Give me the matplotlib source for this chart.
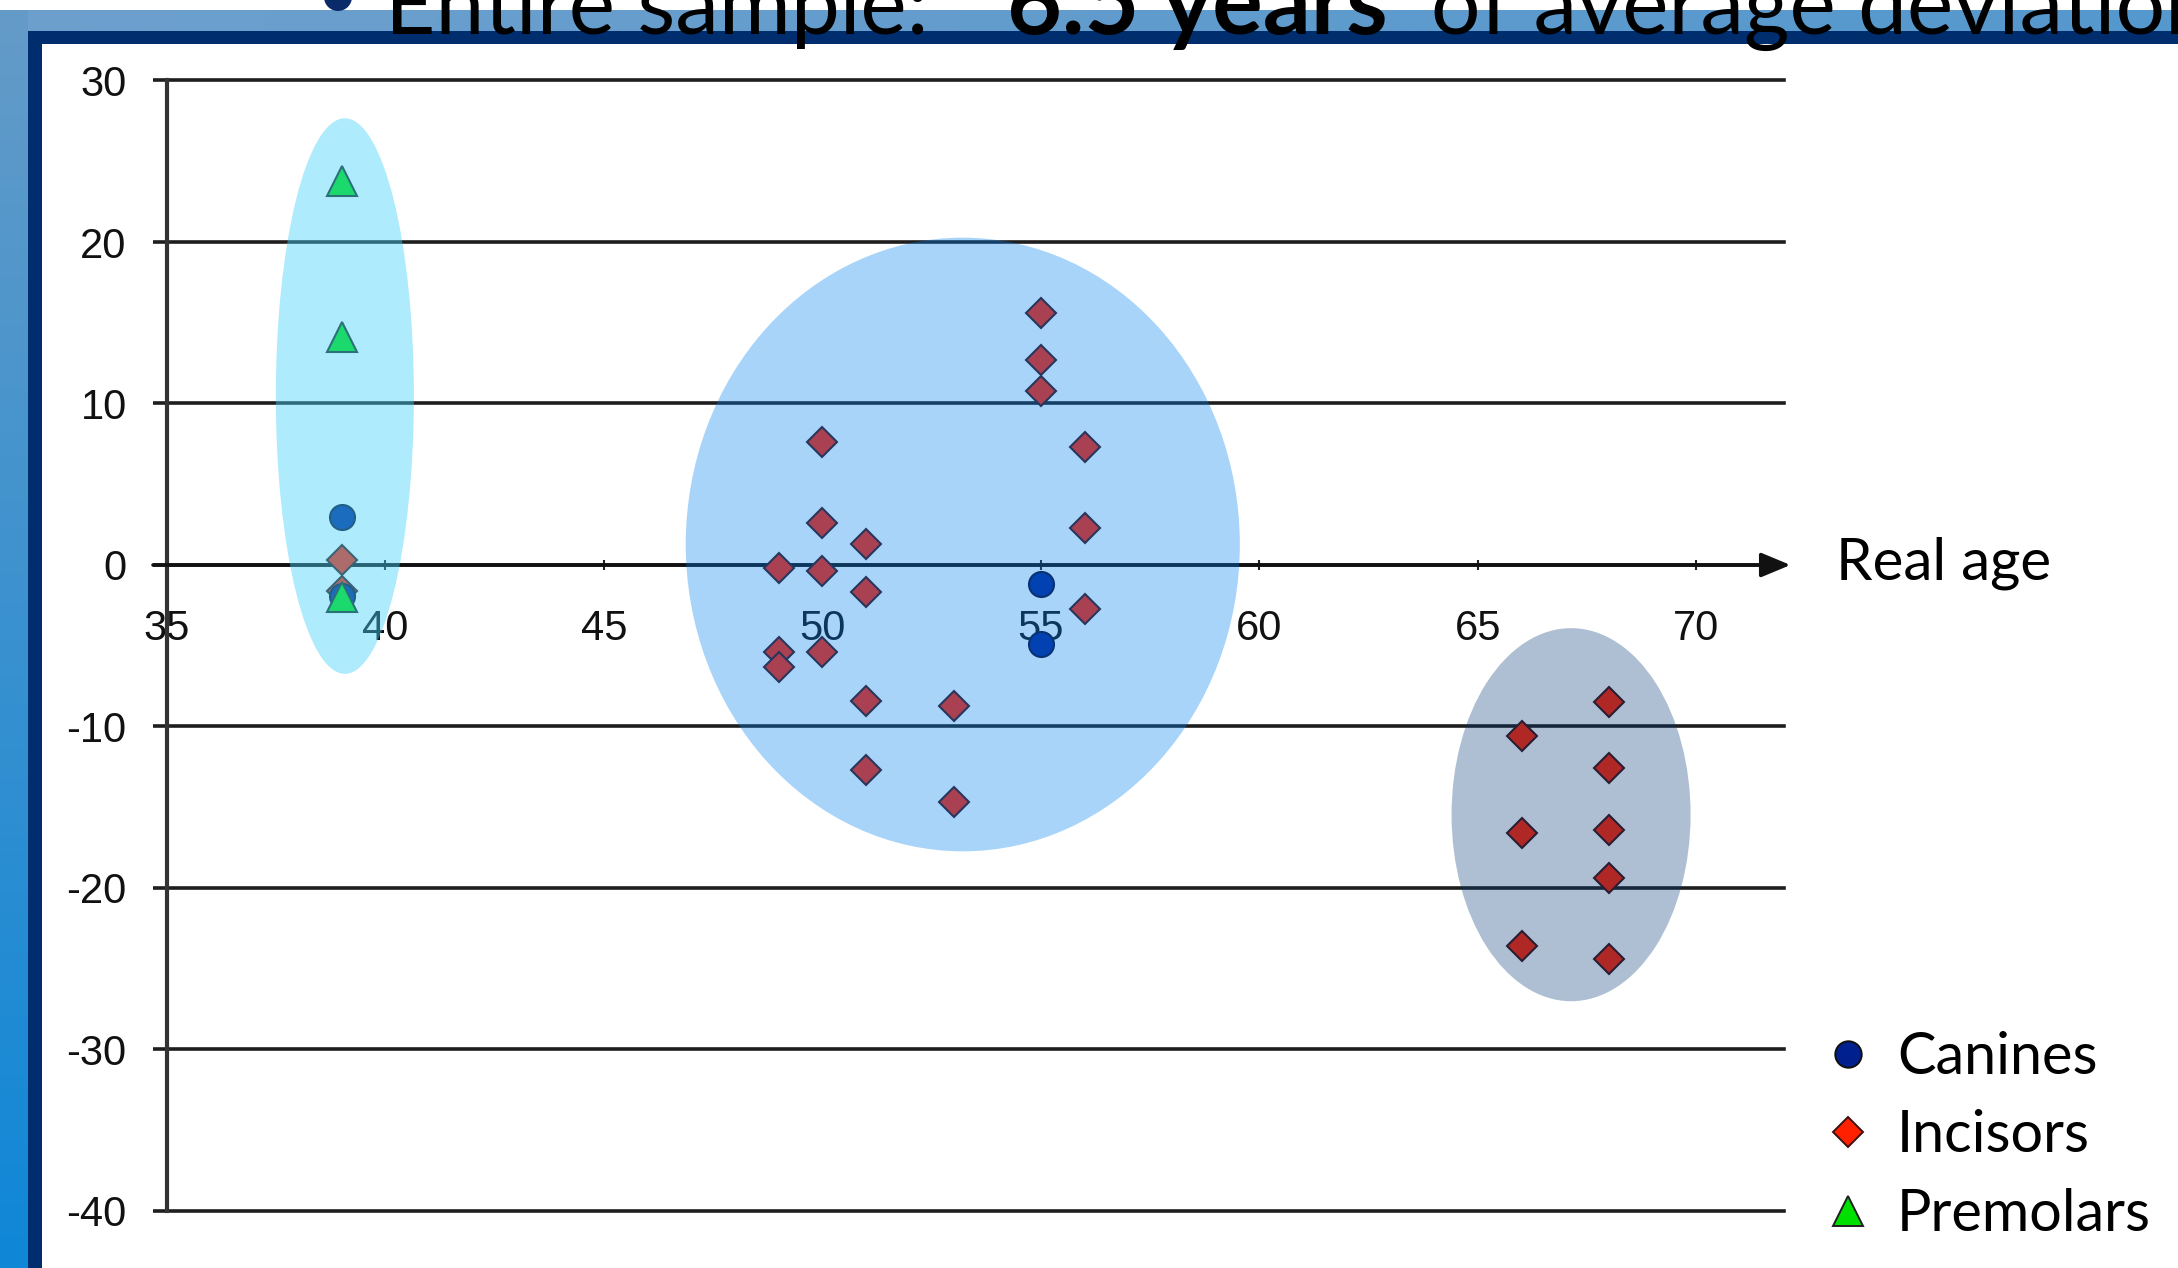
import matplotlib
matplotlib.use("Agg")
import matplotlib.pyplot as plt
import numpy as np
from matplotlib.patches import Ellipse, Rectangle, Circle
from matplotlib.lines import Line2D

# ---------------- data ----------------
series_names = ["Canines", "Incisors", "Premolars"]

canines_x = [39, 39, 55, 55]
canines_y = [3.0, -1.9, -1.2, -4.9]

incisors_x = [39, 39, 55, 55, 55, 50, 56, 50, 56, 51, 49, 50, 51, 56, 49, 49,
              50, 51, 53, 51, 53, 66, 66, 66, 68, 68, 68, 68, 68]
incisors_y = [0.3, -1.6, 15.6, 12.7, 10.8, 7.6, 7.3, 2.6, 2.3, 1.3, -0.2, -0.4,
              -1.7, -2.7, -5.4, -6.3, -5.4, -8.4, -8.7, -12.7, -14.7, -10.6,
              -16.6, -23.6, -8.5, -12.6, -16.4, -19.4, -24.4]

premolars_x = [39, 39, 39]
premolars_y = [23.8, 14.1, -2.0]

x_ticks = [35, 40, 45, 50, 55, 60, 65, 70]
y_ticks = [-40, -30, -20, -10, 0, 10, 20, 30]

# group highlight ellipses: (center x, center y, width, height)
group_centers_x = [39.07, 53.21, 67.13]
group_centers_y = [10.46, 1.27, -15.46]
group_widths = [3.16, 12.68, 5.47]
group_heights = [34.4, 38.0, 23.1]

axis_label = "Real age"
title_parts = ["Entire sample:", "6.5 years", "of average deviation"]

# ---------------- figure ----------------
W, H = 2178, 1268
DPI = 100
fig = plt.figure(figsize=(W / DPI, H / DPI), dpi=DPI)
fig.patch.set_facecolor("white")

# background (slide decoration) in pixel coordinates
bg = fig.add_axes([0, 0, 1, 1], zorder=-10)
bg.set_xlim(0, W)
bg.set_ylim(H, 0)
bg.axis("off")

band = np.linspace(0, 1, 256)[None, :]
band_rgb = np.zeros((1, 256, 3))
band_rgb[..., 0] = (110 - 25 * band) / 255
band_rgb[..., 1] = (160 - 8 * band) / 255
band_rgb[..., 2] = (205 + 0 * band) / 255
bg.imshow(band_rgb, extent=[0, W, 31, 10], aspect="auto", interpolation="bilinear")
v = np.linspace(0, 1, 256)[:, None]
strip = np.zeros((256, 1, 3))
strip[..., 0] = (100 - 85 * v) / 255
strip[..., 1] = (155 - 20 * v) / 255
strip[..., 2] = (200 + 15 * v) / 255
bg.imshow(strip, extent=[0, 28, H, 10], aspect="auto", interpolation="bilinear")
navy = "#002d6e"
bg.add_patch(Rectangle((28, 31), W, H, facecolor=navy, edgecolor="none"))
bg.add_patch(Rectangle((42, 44), W, H, facecolor="white", edgecolor="none"))
bg.add_patch(Circle((338, -3), 14, facecolor="#0a2a6a", edgecolor="none", clip_on=False))

# ---------------- main axes ----------------
x0, x1 = 35, 72
px_left, px_right = 167, 167 + (x1 - x0) * 43.7
px_top, px_bot = 80.5, 1211
ax = fig.add_axes([px_left / W, 1 - px_bot / H, (px_right - px_left) / W, (px_bot - px_top) / H])
ax.set_facecolor("none")
ax.set_xlim(x0, x1)
ax.set_ylim(-40, 30)

for s in ["top", "right"]:
    ax.spines[s].set_visible(False)
ax.spines["left"].set_linewidth(3)
ax.spines["left"].set_color("#333333")
ax.spines["bottom"].set_position(("data", 0))
ax.spines["bottom"].set_visible(False)

ax.set_yticks(y_ticks)
ax.set_xticks(x_ticks)
tick_font = dict(family="Liberation Sans", size=30)
ax.set_yticklabels([str(t) for t in y_ticks], fontdict=tick_font, color="#111111")
ax.set_xticklabels([str(t) for t in x_ticks], fontdict=tick_font, color="#111111")
ax.tick_params(axis="y", direction="out", length=10, width=2.6, color="#1e1e1e", pad=19)
ax.tick_params(axis="x", direction="inout", length=7, width=1.5, color="#222222", pad=28)
ax.yaxis.grid(True, color="#1e1e1e", linewidth=2.6)
for gl in ax.get_ygridlines():
    gl.set_clip_on(False)
ax.set_axisbelow(True)

# x axis with arrow at y=0
ax.annotate("", xy=(72.15, 0), xytext=(x0 - 0.32, 0),
            arrowprops=dict(arrowstyle="-|>,head_length=0.6,head_width=0.25",
                            color="#111111", lw=2.6, mutation_scale=30,
                            shrinkA=0, shrinkB=0),
            annotation_clip=False, zorder=2.6)

# series
ax.plot(incisors_x, incisors_y, linestyle="none", marker="D", ms=15,
        mfc="#ff2000", mec="#3a1010", mew=1.5, zorder=3, label=series_names[1])
ax.plot(canines_x, canines_y, linestyle="none", marker="o", ms=18,
        mfc="#002090", mec="#0a0a30", mew=1.5, zorder=3.1, label=series_names[0])
ax.plot(premolars_x, premolars_y, linestyle="none", marker="^", ms=21,
        mfc="#00e000", mec="#1a2a1a", mew=1.5, zorder=3.2, label=series_names[2])

# group highlight ellipses drawn on top, semi-transparent
ell_colors = [(65 / 255, 209 / 255, 251 / 255), (5 / 255, 129 / 255, 241 / 255), (8 / 255, 58 / 255, 120 / 255)]
ell_alpha = [0.43, 0.34, 0.32]
for cx, cy, w, h, c, a in zip(group_centers_x, group_centers_y, group_widths, group_heights, ell_colors, ell_alpha):
    ax.add_patch(Ellipse((cx, cy), w, h, facecolor=c, alpha=a, edgecolor="none", zorder=5))

# ---------------- text ----------------
text_font = "Lato"
fig.text(1836 / W, 1 - 579 / H, axis_label, family=text_font, fontsize=42,
         color="black", va="baseline", ha="left")

title_y = 1 - 34 / H
fig.text(385 / W, title_y, title_parts[0], family=text_font, fontsize=63, va="baseline", ha="left")
fig.text(1007 / W, title_y, title_parts[1], family=text_font, fontsize=68, fontweight="bold", va="baseline", ha="left")
fig.text(1431 / W, title_y, title_parts[2], family=text_font, fontsize=63, va="baseline", ha="left")

# legend
handles = [
    Line2D([], [], linestyle="none", marker="o", ms=19, mfc="#002090", mec="#101010", mew=1.4),
    Line2D([], [], linestyle="none", marker="D", ms=15, mfc="#ff2000", mec="#3a1010", mew=1.4),
    Line2D([], [], linestyle="none", marker="^", ms=21, mfc="#00e000", mec="#202020", mew=1.4),
]
fs = 41.5
fig.legend(handles, series_names, loc="upper left",
           bbox_to_anchor=(1825 / W, 1 - 1031 / H), frameon=False,
           prop=dict(family=text_font, size=fs), handlelength=0.8,
           handletextpad=0.45, labelspacing=0.44, borderpad=0, borderaxespad=0)

fig.savefig("out.png", dpi=DPI)
